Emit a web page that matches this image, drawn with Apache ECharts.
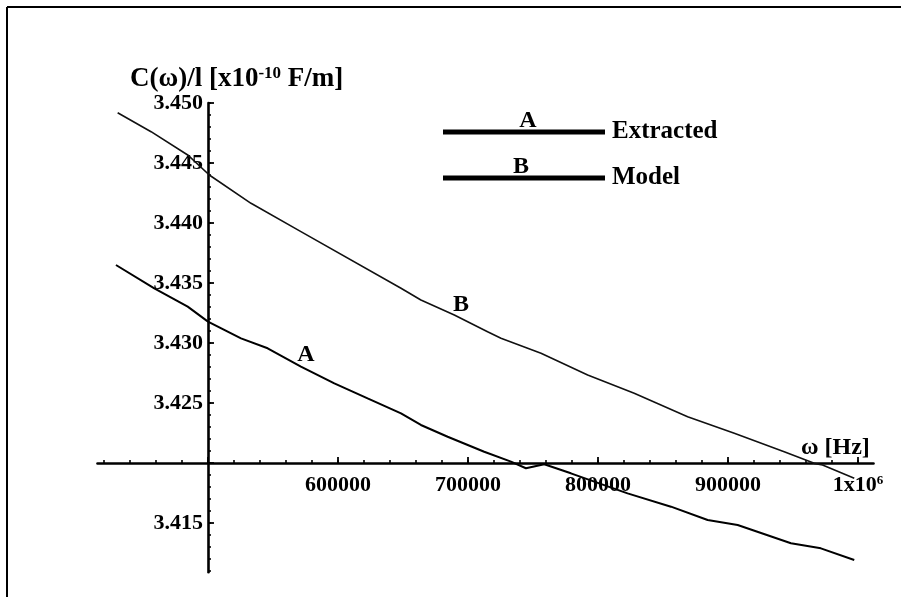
<!DOCTYPE html>
<html>
<head>
<meta charset="utf-8">
<script src="https://cdn.jsdelivr.net/npm/echarts@6/dist/echarts.min.js"></script>
<style>
html,body{margin:0;padding:0;background:#fff;}
#chart{width:901px;height:597px;}
</style>
</head>
<body>
<div id="chart"></div>
<script>
// ---- data ----
const extractedX = [429200, 458700, 484400, 500000, 525400, 545900, 571500, 597200, 622800, 648500, 663800, 684400, 712500, 733100, 744600, 758700, 779200, 822800, 856200, 884400, 907500, 948500, 971500, 997200];
const extractedY = [3.4365, 3.43456, 3.43303, 3.43178, 3.43039, 3.42956, 3.42803, 3.42664, 3.42539, 3.42414, 3.42317, 3.42219, 3.42094, 3.42011, 3.41956, 3.41989, 3.41914, 3.41747, 3.41636, 3.41525, 3.41483, 3.41331, 3.41289, 3.41192];
const modelX = [430500, 456200, 484400, 501000, 533100, 571500, 648500, 663800, 689500, 715100, 725400, 756200, 792100, 827900, 869000, 904900, 943300, 966400, 972800, 997200];
const modelY = [3.44919, 3.44761, 3.44567, 3.444, 3.44164, 3.43928, 3.43456, 3.43358, 3.43233, 3.43094, 3.43039, 3.42914, 3.42733, 3.42581, 3.42386, 3.42247, 3.42094, 3.41997, 3.41983, 3.41872];
const seriesNames = ['Extracted', 'Model'];
const seriesTags = ['A', 'B'];
const xTickValues = [600000, 700000, 800000, 900000, 1000000];
const xTickLabels = ['600000', '700000', '800000', '900000', '1x10{sup|6}'];
const yTickValues = [3.415, 3.425, 3.430, 3.435, 3.440, 3.445, 3.450];
const yTickLabels = ['3.415', '3.425', '3.430', '3.435', '3.440', '3.445', '3.450'];

// the axes cross at (X0, Y0)
const X0 = 500000, Y0 = 3.420;
const X_MIN = 415000, X_MAX = 1012000;
const Y_MIN = 3.4109, Y_MAX = 3.450;

const FONT = 'Liberation Serif';

const xMinor = [], yMinor = [];
for (let v = 420000; v <= 1000000; v += 20000) xMinor.push(v);
for (let k = 3411; k <= 3450; k++) yMinor.push(k / 1000);
const xMajor = xTickValues.concat([X0]);
const yMajor = yTickValues.concat([Y0]);

function xLabel(v) {
  const i = xTickValues.findIndex(t => Math.abs(t - v) < 1);
  return i >= 0 ? xTickLabels[i] : '';
}
function yLabel(v) {
  const i = yTickValues.findIndex(t => Math.abs(t - v) < 1e-7);
  return i >= 0 ? yTickLabels[i] : '';
}

const labelStyle = {color: '#000', fontFamily: FONT, fontWeight: 'bold', fontSize: 22};

// geometry
const L = 97.5, W = 776, T = 103, H = 469.2;
const pxPerX = W / (X_MAX - X_MIN), pxPerY = H / (Y_MAX - Y_MIN);
const xAxisPx = T + (Y_MAX - Y0) * pxPerY;     // pixel row of the x axis
const yAxisPx = L + (X0 - X_MIN) * pxPerX;     // pixel column of the y axis

const grids = [
  {left: L, top: T, width: W, height: H},                          // 0: plot
  {left: L, top: T, width: W, height: xAxisPx - T},                // 1: x axis (minor+labels)
  {left: L, top: T, width: W, height: xAxisPx - T},                // 2: x axis major ticks
  {left: yAxisPx, top: T, width: L + W - yAxisPx, height: H},      // 3: y axis (minor+labels)
  {left: yAxisPx, top: T, width: L + W - yAxisPx, height: H}       // 4: y axis major ticks
].map(g => Object.assign({containLabel: false, outerBoundsMode: 'none', show: false}, g));

const hiddenX = gi => ({type: 'value', gridIndex: gi, min: X_MIN, max: X_MAX, show: false});
const hiddenY = gi => ({type: 'value', gridIndex: gi, min: Y_MIN, max: Y_MAX, show: false});

const xAxes = [
  hiddenX(0),
  {type: 'value', gridIndex: 1, min: X_MIN, max: X_MAX, position: 'bottom',
    axisLine: {show: true, onZero: false, lineStyle: {color: '#000', width: 2.6}},
    axisTick: {show: true, inside: true, length: 3, customValues: xMinor, lineStyle: {color: '#000', width: 1.6}},
    axisLabel: Object.assign({show: true, margin: 11, customValues: xTickValues, formatter: xLabel,
      rich: {sup: {fontFamily: FONT, fontWeight: 'bold', fontSize: 13, verticalAlign: 'top', padding: [0, 0, 10, 0]}}}, labelStyle),
    splitLine: {show: false}},
  {type: 'value', gridIndex: 2, min: X_MIN, max: X_MAX, position: 'bottom',
    axisLine: {show: false, onZero: false},
    axisTick: {show: true, inside: true, length: 6, customValues: xMajor, lineStyle: {color: '#000', width: 1.8}},
    axisLabel: {show: false}, splitLine: {show: false}},
  hiddenX(3),
  hiddenX(4)
];
const yAxes = [
  hiddenY(0),
  hiddenY(1),
  hiddenY(2),
  {type: 'value', gridIndex: 3, min: Y_MIN, max: Y_MAX, position: 'left',
    axisLine: {show: true, onZero: false, lineStyle: {color: '#000', width: 2.6}},
    axisTick: {show: true, inside: true, length: 3, customValues: yMinor, lineStyle: {color: '#000', width: 1.6}},
    axisLabel: Object.assign({show: true, margin: 5, customValues: yTickValues, formatter: yLabel}, labelStyle),
    splitLine: {show: false}},
  {type: 'value', gridIndex: 4, min: Y_MIN, max: Y_MAX, position: 'left',
    axisLine: {show: false, onZero: false},
    axisTick: {show: true, inside: true, length: 6, customValues: yMajor, lineStyle: {color: '#000', width: 1.8}},
    axisLabel: {show: false}, splitLine: {show: false}}
];

const chart = echarts.init(document.getElementById('chart'), null, {renderer: 'canvas'});
chart.setOption({
  backgroundColor: '#fff',
  animation: false,
  grid: grids,
  xAxis: xAxes,
  yAxis: yAxes,
  legend: {
    show: true, orient: 'vertical', left: 443, top: 119, padding: 0, itemGap: 20,
    itemWidth: 162, itemHeight: 5, icon: 'rect',
    textStyle: {color: '#000', fontFamily: FONT, fontWeight: 'bold', fontSize: 25, lineHeight: 26, padding: [0, 0, 0, 2]},
    data: seriesNames
  },
  series: [{
    name: seriesNames[0], type: 'line', showSymbol: false, smooth: false,
    xAxisIndex: 0, yAxisIndex: 0,
    lineStyle: {color: '#000', width: 2}, itemStyle: {color: '#000'},
    data: extractedX.map((x, i) => [x, extractedY[i]])
  }, {
    name: seriesNames[1], type: 'line', showSymbol: false, smooth: false,
    xAxisIndex: 0, yAxisIndex: 0,
    lineStyle: {color: '#111', width: 1.6}, itemStyle: {color: '#000'},
    data: modelX.map((x, i) => [x, modelY[i]])
  }],
  graphic: [
    {type: 'line', shape: {x1: 7, y1: 7, x2: 901, y2: 7}, style: {stroke: '#000', lineWidth: 2}},
    {type: 'line', shape: {x1: 7, y1: 7, x2: 7, y2: 597}, style: {stroke: '#000', lineWidth: 2}},
    {type: 'text', left: 130, top: 65, style: {
      text: 'C(ω)/l [x10{sup|-10} F/m]', fill: '#000', font: 'bold 27px "Liberation Serif"',
      rich: {sup: {fontFamily: FONT, fontWeight: 'bold', fontSize: 17, verticalAlign: 'top', padding: [0, 0, 12, 0]}}
    }},
    {type: 'text', left: 801, top: 436, style: {text: 'ω [Hz]', fill: '#000', font: 'bold 24px "Liberation Serif"'}},
    {type: 'text', x: 528, y: 133, style: {text: seriesTags[0], fill: '#000', font: 'bold 24px "Liberation Serif"', align: 'center', verticalAlign: 'bottom'}},
    {type: 'text', x: 521, y: 179, style: {text: seriesTags[1], fill: '#000', font: 'bold 24px "Liberation Serif"', align: 'center', verticalAlign: 'bottom'}},
    {type: 'text', x: 306, y: 367, style: {text: seriesTags[0], fill: '#000', font: 'bold 24px "Liberation Serif"', align: 'center', verticalAlign: 'bottom'}},
    {type: 'text', x: 461, y: 317, style: {text: seriesTags[1], fill: '#000', font: 'bold 24px "Liberation Serif"', align: 'center', verticalAlign: 'bottom'}}
  ]
});
</script>
</body>
</html>
